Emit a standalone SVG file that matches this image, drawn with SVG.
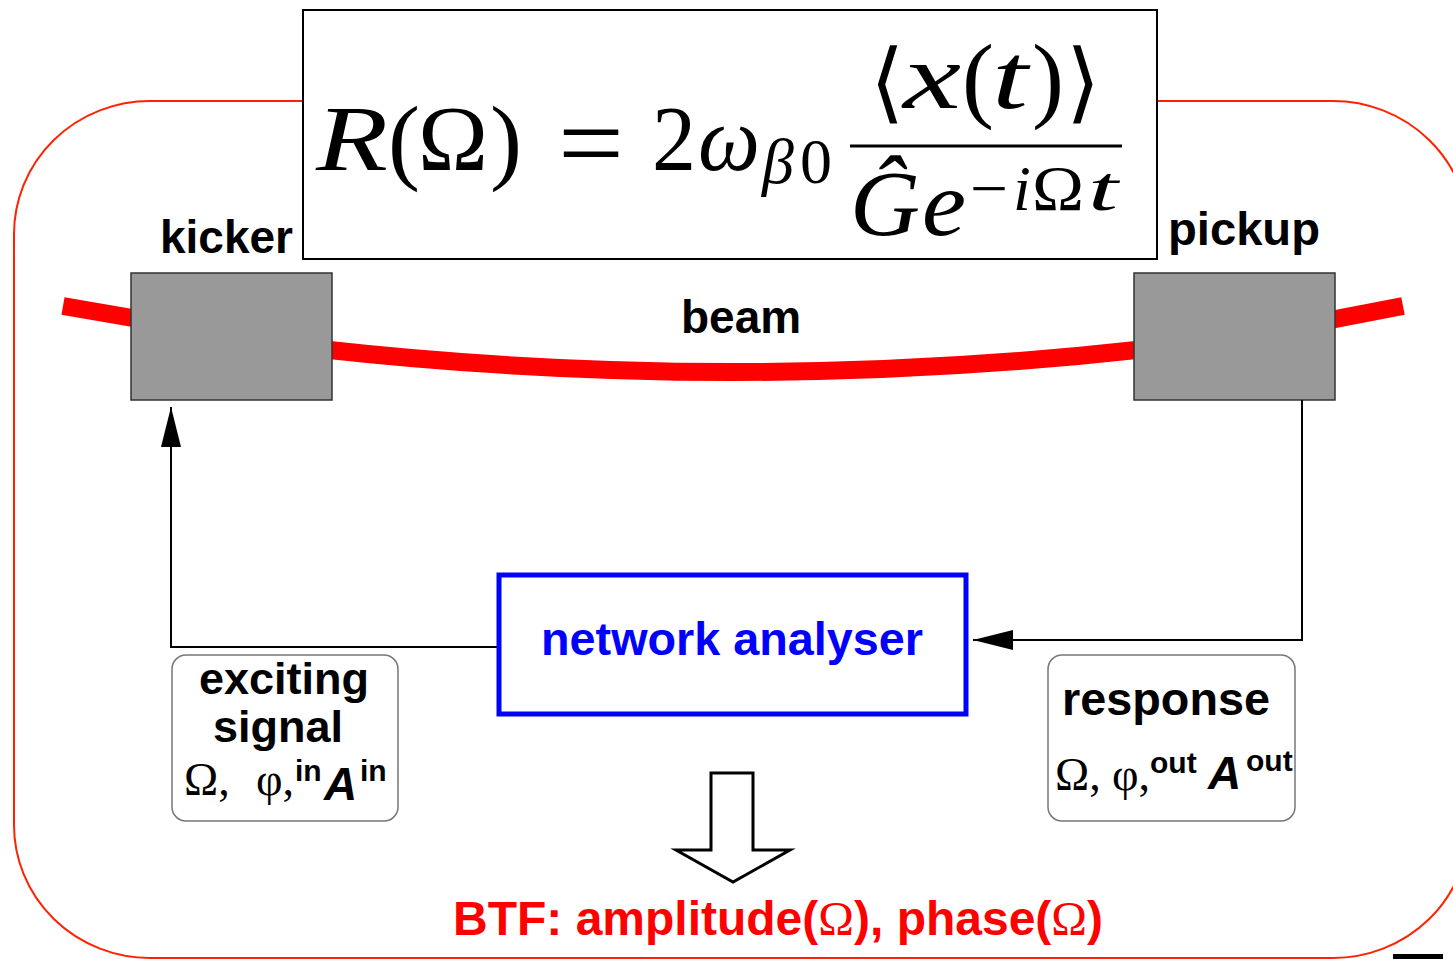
<svg xmlns="http://www.w3.org/2000/svg" width="1453" height="959" viewBox="0 0 1453 959">
<style>
.lbl{font-family:"Liberation Sans",Arial,sans-serif;font-weight:bold;font-size:46px;fill:#000}
.m{font-family:"Liberation Serif","Times New Roman",serif;fill:#000}
.it{font-style:italic}
.sup{font-family:"Liberation Sans",Arial,sans-serif;font-weight:bold;font-size:30px;fill:#000}
.conn{fill:none;stroke:#000;stroke-width:2}
.dev{fill:#999;stroke:#333;stroke-width:1.5}
.info{fill:#fff;stroke:#777;stroke-width:1.5}
.beam{fill:none;stroke:#f00;stroke-width:18;stroke-linecap:butt}
.om{font-family:"Liberation Serif","Times New Roman",serif;font-weight:normal}
</style>
<defs>
<marker id="arr" viewBox="0 0 40 20" refX="40" refY="10" markerWidth="40" markerHeight="20" markerUnits="userSpaceOnUse" orient="auto">
<path d="M0,0 L40,10 L0,20 Z" fill="#000"/>
</marker>
</defs>
<rect width="1453" height="959" fill="#fff"/>
<g id="ring">
<rect x="14" y="101" width="1455" height="857" rx="136" ry="133" fill="none" stroke="#ff2200" stroke-width="2"/>
</g>
<g id="beam">
<path class="beam" d="M63,306 L150,321"/>
<path class="beam" d="M320,349 Q733,395 1146,349"/>
<path class="beam" d="M1320,322 L1403,306"/>
<text class="lbl" x="681" y="333">beam</text>
</g>
<g id="formula">
<rect x="303" y="10" width="854" height="249" fill="#fff" stroke="#000" stroke-width="2"/>
<text class="m it" x="316" y="170" font-size="94" textLength="72" lengthAdjust="spacingAndGlyphs">R</text>
<text class="m" x="388" y="172" font-size="96">(</text>
<text class="m" x="418" y="170" font-size="94" textLength="70" lengthAdjust="spacingAndGlyphs">Ω</text>
<text class="m" x="490" y="172" font-size="96">)</text>
<text class="m" x="558" y="180" font-size="110" textLength="66" lengthAdjust="spacingAndGlyphs">=</text>
<text class="m" x="652" y="170" font-size="94" textLength="44" lengthAdjust="spacingAndGlyphs">2</text>
<text class="m it" x="698" y="170" font-size="94" textLength="62" lengthAdjust="spacingAndGlyphs">ω</text>
<text class="m it" x="762" y="183" font-size="64">β</text>
<text class="m" x="800" y="183" font-size="64">0</text>
<line x1="850" y1="146" x2="1122" y2="146" stroke="#000" stroke-width="3"/>
<text class="m" x="870" y="112" font-size="88" font-family="DejaVu Serif">⟨</text>
<text class="m it" x="903" y="108" font-size="94" textLength="58" lengthAdjust="spacingAndGlyphs">x</text>
<text class="m" x="962" y="110" font-size="96">(</text>
<text class="m it" x="992" y="108" font-size="94" textLength="36" lengthAdjust="spacingAndGlyphs">t</text>
<text class="m" x="1032" y="110" font-size="96">)</text>
<text class="m" x="1066" y="112" font-size="88" font-family="DejaVu Serif">⟩</text>
<text class="m it" x="850" y="235" font-size="94" textLength="70" lengthAdjust="spacingAndGlyphs">Ĝ</text>
<text class="m it" x="922" y="235" font-size="94" textLength="44" lengthAdjust="spacingAndGlyphs">e</text>
<text class="m" x="970" y="210" font-size="64" textLength="38" lengthAdjust="spacingAndGlyphs">−</text>
<text class="m it" x="1013" y="210" font-size="64">i</text>
<text class="m" x="1032" y="210" font-size="64" textLength="52" lengthAdjust="spacingAndGlyphs">Ω</text>
<text class="m it" x="1088" y="210" font-size="64" textLength="30" lengthAdjust="spacingAndGlyphs">t</text>
</g>
<g id="kicker">
<rect class="dev" x="131" y="273" width="201" height="127"/>
<text class="lbl" x="160" y="253" textLength="133" lengthAdjust="spacingAndGlyphs">kicker</text>
</g>
<g id="pickup">
<rect class="dev" x="1134" y="273" width="201" height="127"/>
<text class="lbl" x="1168" y="245" textLength="152" lengthAdjust="spacingAndGlyphs">pickup</text>
</g>
<g id="connectors">
<path class="conn" d="M498,647 H171 V407" marker-end="url(#arr)"/>
<path class="conn" d="M1302,400 V640 H973" marker-end="url(#arr)"/>
<polygon points="711,773 753,773 753,850 790,850 733,882 676,850 711,850" fill="#fff" stroke="#000" stroke-width="3"/>
</g>
<g id="network-analyser">
<rect x="499" y="575" width="467" height="139" fill="#fff" stroke="#0000ff" stroke-width="5"/>
<text class="lbl" x="541" y="655" style="fill:#0000ff" textLength="382" lengthAdjust="spacingAndGlyphs">network analyser</text>
</g>
<g id="exciting-signal">
<rect class="info" x="172" y="655" width="226" height="166" rx="14"/>
<text class="lbl" style="font-size:45px"><tspan x="199" y="694">exciting</tspan><tspan x="213" y="742">signal</tspan></text>
<text class="m" x="184" y="795" font-size="46">Ω,</text>
<text class="m" x="256" y="795" font-size="46">φ,</text>
<text class="sup" x="295" y="781">in</text>
<text class="lbl" x="324" y="800" font-style="italic">A</text>
<text class="sup" x="360" y="781">in</text>
</g>
<g id="response">
<rect class="info" x="1048" y="655" width="247" height="166" rx="14"/>
<text class="lbl" x="1062" y="715" textLength="208" lengthAdjust="spacingAndGlyphs">response</text>
<text class="m" x="1055" y="790" font-size="46">Ω,</text>
<text class="m" x="1112" y="790" font-size="46">φ,</text>
<text class="sup" x="1150" y="773">out</text>
<text class="lbl" x="1208" y="789" font-style="italic">A</text>
<text class="sup" x="1246" y="771">out</text>
</g>
<g id="btf">
<text x="453" y="935" font-family="Liberation Sans, Arial, sans-serif" font-weight="bold" font-size="48" fill="#ff0000">BTF: amplitude(<tspan class="om">Ω</tspan>), phase(<tspan class="om">Ω</tspan>)</text>
</g>
<rect x="1393" y="954" width="50" height="5" fill="#000"/>
</svg>
